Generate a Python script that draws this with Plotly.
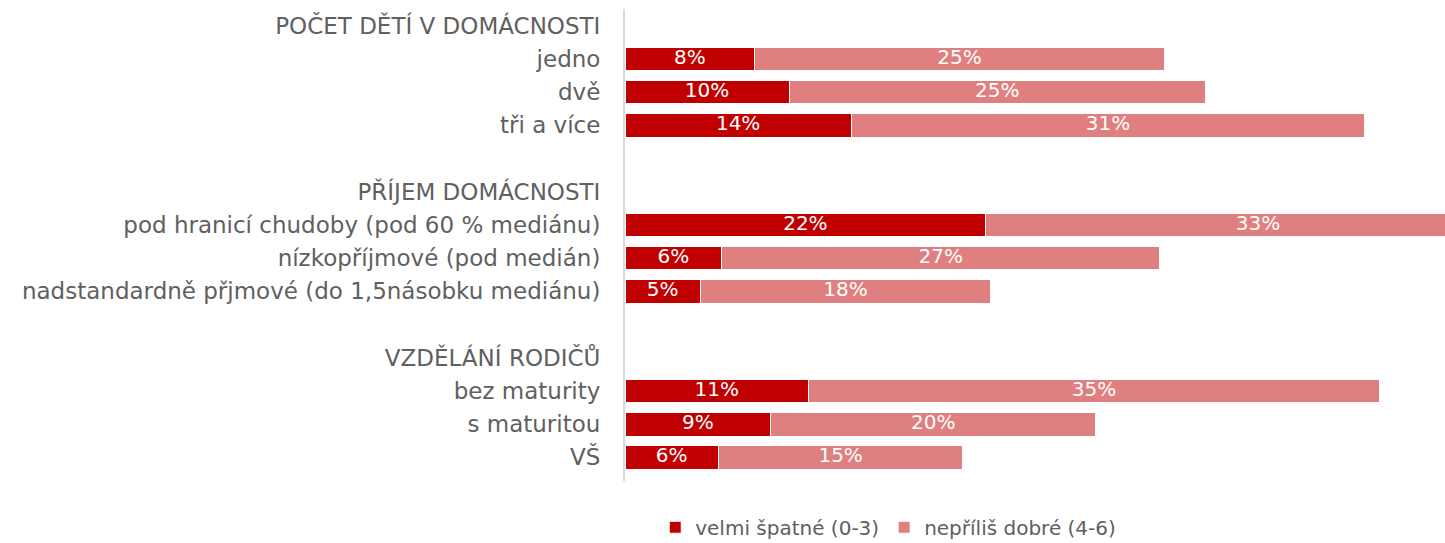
import plotly.graph_objects as go

# categories top to bottom (headers + blank spacer rows)
kategorie = [
    "POČET DĚTÍ V DOMÁCNOSTI", "jedno", "dvě", "tři a více", " ",
    "PŘÍJEM DOMÁCNOSTI", "pod hranicí chudoby (pod 60 % mediánu)",
    "nízkopříjmové (pod medián)", "nadstandardně přjmové (do 1,5násobku mediánu)", "  ",
    "VZDĚLÁNÍ RODIČŮ", "bez maturity", "s maturitou", "VŠ",
]
# shares (None = header / spacer)
velmi_spatne = [None, 0.079, 0.100, 0.138, None, None, 0.220, 0.059, 0.046, None, None, 0.112, 0.089, 0.057]
neprilis_dobre = [None, 0.250, 0.254, 0.313, None, None, 0.332, 0.267, 0.177, None, None, 0.348, 0.198, 0.149]

tmave = "#C00000"
svetle = "#E07F7F"
font_fam = "DejaVu Sans"

fig = go.Figure()
fig.add_trace(go.Bar(
    y=kategorie, x=velmi_spatne, orientation="h", name="velmi špatné (0-3)",
    marker=dict(color=tmave, line=dict(color="white", width=1)),
))
fig.add_trace(go.Bar(
    y=kategorie, x=neprilis_dobre, orientation="h", name="nepříliš dobré (4-6)",
    marker=dict(color=svetle, line=dict(color="white", width=1)),
))

# data labels centred on each segment (also on the part cut off by the axis range)
stredy, popisky, radky = [], [], []
for k, a, b in zip(kategorie, velmi_spatne, neprilis_dobre):
    if a is None:
        continue
    stredy += [a / 2, a + b / 2]
    popisky += [f"{a:.0%}", f"{b:.0%}"]
    radky += [k, k]
fig.add_trace(go.Scatter(
    x=stredy, y=radky, mode="text", text=popisky, showlegend=False, hoverinfo="skip",
    textfont=dict(color="white", size=20, family=font_fam), cliponaxis=False,
))

fig.update_layout(
    barmode="stack", bargap=0.288,
    width=1445, height=543,
    margin=dict(l=625, r=0, t=9, b=62, autoexpand=False),
    plot_bgcolor="white", paper_bgcolor="white",
    font=dict(family=font_fam, color="#606060", size=23),
    legend=dict(orientation="h", x=0.321, xanchor="center", y=-0.098, yanchor="middle",
                font=dict(size=20), traceorder="normal", itemwidth=30),
)
fig.update_xaxes(range=[0, 0.5], visible=False, fixedrange=True, automargin=False)
fig.update_yaxes(categoryorder="array", categoryarray=kategorie, autorange="reversed",
                 showline=True, linecolor="#D9D9D9", linewidth=2, ticks="", ticklabelstandoff=18,
                 showgrid=False, automargin=False, fixedrange=True)

# page without the default body margin, so the figure fills the window exactly
fig.write_html("out.html", config={"displayModeBar": False},
               post_script="document.body.style.margin='0';")
